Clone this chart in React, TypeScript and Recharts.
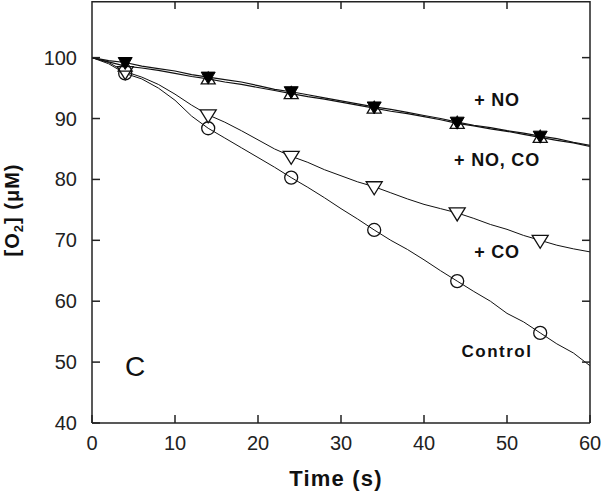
import React from "react";
import { ComposedChart, Line, XAxis, YAxis } from "recharts";

const times = [0, 2, 4, 6, 8, 10, 12, 14, 16, 18, 20, 22, 24, 26, 28, 30, 32, 34, 36, 38, 40, 42, 44, 46, 48, 50, 52, 54, 56, 58, 60];
const control = [100, 99.0, 97.4, 96.5, 95.0, 93.0, 90.4, 88.4, 86.8, 85.2, 83.6, 82.0, 80.3, 78.7, 77.0, 75.2, 73.5, 71.7, 70.0, 68.5, 66.8, 65.0, 63.3, 61.6, 60.0, 58.0, 56.6, 54.8, 53.0, 51.5, 49.4];
const plusCO = [100, 99.2, 97.7, 96.8, 95.6, 94.0, 92.2, 90.6, 89.4, 88.0, 86.5, 85.0, 83.8, 82.8, 81.6, 80.6, 79.6, 78.8, 77.8, 76.8, 75.9, 75.2, 74.5, 73.6, 72.6, 71.8, 70.8, 70.0, 69.2, 68.6, 68.1];
const plusNO = [100, 99.5, 99.2, 98.6, 98.2, 97.8, 97.2, 96.8, 96.4, 96.0, 95.4, 94.8, 94.4, 93.9, 93.4, 92.9, 92.4, 91.9, 91.5, 91.0, 90.5, 90.0, 89.4, 88.9, 88.5, 88.0, 87.6, 87.1, 86.7, 86.1, 85.6];
const plusNOCO = [100, 99.3, 98.6, 98.3, 97.9, 97.4, 96.9, 96.5, 96.0, 95.6, 95.1, 94.6, 94.1, 93.6, 93.2, 92.7, 92.2, 91.7, 91.2, 90.8, 90.3, 89.8, 89.2, 88.8, 88.3, 87.9, 87.4, 86.9, 86.4, 86.0, 85.4];
const markerTimes = [4, 14, 24, 34, 44, 54];
const xTicks = [0, 10, 20, 30, 40, 50, 60];
const yTicks = [40, 50, 60, 70, 80, 90, 100];
const xDomain = [0, 60];
const yDomain = [40, 109.3];

const data = times.map((t, i) => ({
  t,
  control: control[i],
  co: plusCO[i],
  no: plusNO[i],
  noco: plusNOCO[i],
}));

// layout of the chart (shared by the chart and the frame overlay)
const W = 601;
const H = 493;
const MARGIN = { top: 1, right: 11, left: 0, bottom: 0 };
const Y_AXIS_W = 92;
const X_AXIS_H = 70;
const plotLeft = MARGIN.left + Y_AXIS_W;
const plotRight = W - MARGIN.right;
const plotTop = MARGIN.top;
const plotBottom = H - MARGIN.bottom - X_AXIS_H;
const sx = (v: number) => plotLeft + ((v - xDomain[0]) / (xDomain[1] - xDomain[0])) * (plotRight - plotLeft);
const sy = (v: number) => plotBottom - ((v - yDomain[0]) / (yDomain[1] - yDomain[0])) * (plotBottom - plotTop);

const FONT = "'Liberation Sans', Arial, Helvetica, sans-serif";
const AX = "#222";
const TICK = 8;

const LeftTick = (props: any) => {
  const { x, y, payload } = props;
  return (
    <g>
      <line x1={x + 15} x2={x + 15 + TICK} y1={y} y2={y} stroke={AX} strokeWidth={1.5} />
      <text x={x} y={y} textAnchor="end" dominantBaseline="central" fontSize={20} fill={AX} fontFamily={FONT}>
        {payload.value}
      </text>
    </g>
  );
};

const BottomTick = (props: any) => {
  const { x, y, payload } = props;
  return (
    <g>
      <line x1={x} x2={x} y1={y - 20} y2={y - 20 - TICK} stroke={AX} strokeWidth={1.5} />
      <text x={x} y={y} textAnchor="middle" dominantBaseline="central" fontSize={20} fill={AX} fontFamily={FONT}>
        {payload.value}
      </text>
    </g>
  );
};

const makeDot = (kind: string) => (props: any) => {
  const { cx, cy, payload, index } = props;
  if (!markerTimes.includes(payload.t) || cx == null || cy == null) return <g key={`e${index}`} />;
  if (kind === "circle")
    return <circle key={`c${index}`} cx={cx} cy={cy} r={6.5} fill="none" stroke="#111" strokeWidth={1.3} />;
  if (kind === "openDown")
    return (
      <polygon key={`od${index}`} points={`${cx - 8},${cy - 5} ${cx + 8},${cy - 5} ${cx},${cy + 8}`} fill="#fff" stroke="#111" strokeWidth={1.3} />
    );
  if (kind === "openUp")
    return (
      <polygon key={`ou${index}`} points={`${cx - 7},${cy + 5} ${cx + 7},${cy + 5} ${cx},${cy - 7}`} fill="none" stroke="#111" strokeWidth={1.3} />
    );
  return (
    <polygon key={`fd${index}`} points={`${cx - 7},${cy - 5} ${cx + 7},${cy - 5} ${cx},${cy + 7}`} fill="#000" stroke="#000" strokeWidth={1} />
  );
};

const labelStyle = { fontFamily: FONT, fontWeight: 700, fill: "#111" } as any;

export default function App() {
  return (
    <div style={{ position: "absolute", left: 0, top: 0, width: W, height: H, background: "#fff" }}>
      <ComposedChart width={W} height={H} data={data} margin={MARGIN}>
        <XAxis
          type="number"
          dataKey="t"
          domain={xDomain}
          ticks={xTicks}
          height={X_AXIS_H}
          tickSize={0}
          tickMargin={20}
          tickLine={false}
          tick={<BottomTick />}
          axisLine={{ stroke: AX, strokeWidth: 1.5 }}
          allowDataOverflow
          interval={0}
        />
        <YAxis
          type="number"
          domain={yDomain}
          ticks={yTicks}
          width={Y_AXIS_W}
          tickSize={0}
          tickMargin={15}
          tickLine={false}
          tick={<LeftTick />}
          axisLine={{ stroke: AX, strokeWidth: 1.5 }}
          allowDataOverflow
          interval={0}
        />
        <Line dataKey="control" stroke="#111" strokeWidth={1} dot={makeDot("circle")} isAnimationActive={false} type="linear" />
        <Line dataKey="co" stroke="#111" strokeWidth={1} dot={makeDot("openDown")} isAnimationActive={false} type="linear" />
        <Line dataKey="noco" stroke="#111" strokeWidth={1.2} dot={makeDot("openUp")} isAnimationActive={false} type="linear" />
        <Line dataKey="no" stroke="#111" strokeWidth={1.2} dot={makeDot("filledDown")} isAnimationActive={false} type="linear" />
      </ComposedChart>
      <svg width={W} height={H} style={{ position: "absolute", left: 0, top: 0, pointerEvents: "none" }}>
        {/* top and right edges of the frame, with inward ticks */}
        <line x1={plotLeft} x2={plotRight} y1={plotTop + 0.75} y2={plotTop + 0.75} stroke={AX} strokeWidth={1.5} />
        <line x1={plotRight} x2={plotRight} y1={plotTop} y2={plotBottom} stroke={AX} strokeWidth={1.5} />
        {xTicks.slice(1, -1).map((v) => (
          <line key={`tt${v}`} x1={sx(v)} x2={sx(v)} y1={plotTop} y2={plotTop + TICK} stroke={AX} strokeWidth={1.5} />
        ))}
        {yTicks.slice(1).map((v) => (
          <line key={`rt${v}`} x1={plotRight} x2={plotRight - TICK} y1={sy(v)} y2={sy(v)} stroke={AX} strokeWidth={1.5} />
        ))}
        <text x={497} y={100} textAnchor="middle" dominantBaseline="central" fontSize={18} letterSpacing={0.8} style={labelStyle}>+ NO</text>
        <text x={497} y={160} textAnchor="middle" dominantBaseline="central" fontSize={18} letterSpacing={0.8} style={labelStyle}>+ NO, CO</text>
        <text x={497} y={252} textAnchor="middle" dominantBaseline="central" fontSize={18} letterSpacing={0.8} style={labelStyle}>+ CO</text>
        <text x={497} y={351} textAnchor="middle" dominantBaseline="central" fontSize={17} letterSpacing={1.5} style={labelStyle}>Control</text>
        <text x={135} y={366} textAnchor="middle" dominantBaseline="central" fontSize={28} fontFamily={FONT} fill="#111">C</text>
        <text x={336} y={478} textAnchor="middle" dominantBaseline="central" fontSize={22} letterSpacing={1.2} style={labelStyle}>Time (s)</text>
        <text x={12} y={210} textAnchor="middle" dominantBaseline="central" fontSize={20} letterSpacing={1} transform="rotate(-90 12 210)" style={labelStyle}>
          [O<tspan fontSize={13} dy={6}>2</tspan><tspan dy={-6}>] (μM)</tspan>
        </text>
      </svg>
    </div>
  );
}
